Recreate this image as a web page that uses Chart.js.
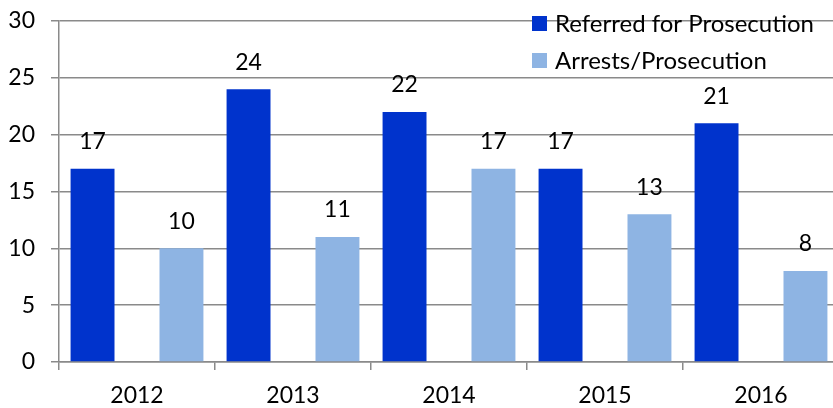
<!DOCTYPE html>
<html>
<head>
<meta charset="utf-8">
<script src="https://cdn.jsdelivr.net/npm/chart.js@4"></script>
<style>
  html, body { margin: 0; padding: 0; overflow: hidden; background: #fff; }
  #wrap { width: 840px; height: 408px; }
</style>
</head>
<body>
<div id="wrap"><canvas id="chart"></canvas></div>
<script>
const years = ["2012", "2013", "2014", "2015", "2016"]
const referred = [17, 24, 22, 17, 21]
const arrests = [10, 11, 17, 13, 8]
const seriesNames = ["Referred for Prosecution", "Arrests/Prosecution"]
const yTicks = [0, 5, 10, 15, 20, 25, 30]

const FONT = "Lato, 'Open Sans', sans-serif"
const gridGray = "#8a8a8a"

// value labels above each bar
const valueLabels = {
  id: "valueLabels",
  afterDatasetsDraw(chart) {
    const ctx = chart.ctx
    ctx.save()
    ctx.font = "23px " + FONT
    ctx.fillStyle = "#000"
    ctx.textAlign = "center"
    ctx.textBaseline = "middle"
    chart.data.datasets.forEach((ds, i) => {
      chart.getDatasetMeta(i).data.forEach((bar, j) => {
        ctx.fillText(ds.data[j], bar.x, bar.y - 27)
      })
    })
    ctx.restore()
  }
}

// legend stacked in the top right corner, drawn over the plot
const cornerLegend = {
  id: "cornerLegend",
  afterDraw(chart) {
    const ctx = chart.ctx
    ctx.save()
    ctx.font = "24px " + FONT
    ctx.textBaseline = "middle"
    ctx.textAlign = "left"
    chart.data.datasets.forEach((ds, i) => {
      const y = 23 + i * 37
      ctx.fillStyle = ds.backgroundColor
      ctx.fillRect(532, y - 7, 15, 15)
      ctx.fillStyle = "#000"
      ctx.fillText(ds.label, 555, y + 1)
    })
    ctx.restore()
  }
}

new Chart(document.getElementById("chart"), {
  type: "bar",
  data: {
    labels: years,
    datasets: [
      { label: seriesNames[0], data: referred, backgroundColor: "#0033cc" },
      { label: seriesNames[1], data: arrests, backgroundColor: "#8eb4e3" }
    ]
  },
  options: {
    responsive: true,
    maintainAspectRatio: false,
    animation: false,
    layout: { autoPadding: false, padding: { top: 21, right: 1, left: 0, bottom: 0 } },
    datasets: {
      bar: { categoryPercentage: 1.14, barPercentage: 0.494 }
    },
    plugins: {
      legend: { display: false },
      tooltip: { enabled: false }
    },
    scales: {
      x: {
        offset: true,
        grid: {
          offset: true,
          drawOnChartArea: false,
          color: gridGray,
          lineWidth: 1.5,
          tickLength: 8
        },
        border: { color: gridGray, width: 1.5 },
        ticks: { color: "#000", font: { family: FONT, size: 23 }, padding: 12 },
        afterFit(scale) { scale.height = 46 }
      },
      y: {
        min: 0,
        max: 30,
        afterBuildTicks(scale) { scale.ticks = yTicks.map(v => ({ value: v })) },
        grid: { color: gridGray, lineWidth: 1.5, tickLength: 8 },
        border: { color: gridGray, width: 1.5 },
        ticks: { color: "#000", font: { family: FONT, size: 23 }, padding: 16 },
        afterFit(scale) {
          scale.width = 59
          // label padding would otherwise push the plot top down
          scale.paddingTop = 0
        }
      }
    }
  },
  plugins: [valueLabels, cornerLegend]
})
</script>
</body>
</html>
